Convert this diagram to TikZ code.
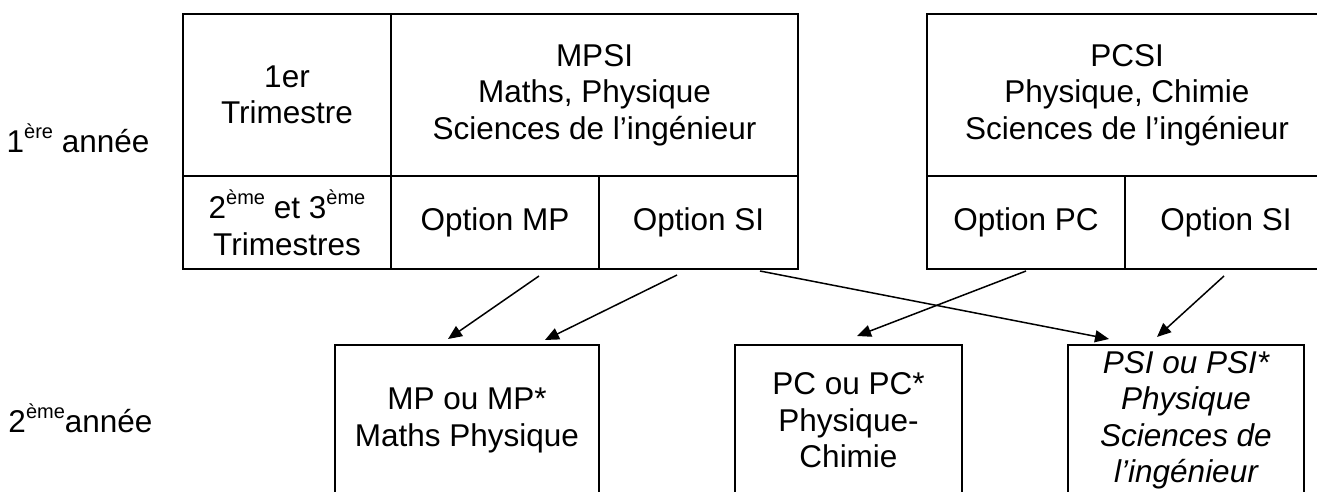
\documentclass[tikz,border=0pt]{standalone}
\usepackage{fontspec}
\setmainfont{Liberation Sans}
\usetikzlibrary{arrows.meta,calc}
\newcommand{\expo}[1]{\raisebox{14.5pt}{\fontsize{20}{20}\selectfont #1}}
\begin{document}
\begin{tikzpicture}[x=1pt,y=-1pt,
  cell/.style={draw,line width=2pt,inner sep=0pt,align=center,
    font=\fontsize{31.5}{36.5}\selectfont},
  lab/.style={inner sep=0pt,font=\fontsize{31.5}{36.5}\selectfont,anchor=base west},
  arr/.style={line width=1.5pt,-{Triangle[length=14pt,width=12pt]}}]
\useasboundingbox (0,0) rectangle (1317,492);
% year labels
\node[lab] (y1) at (6.5,153) {1\expo{ère} année};
\node[lab] (y2) at (8.3,432.7) {2\expo{ème}année};
% MPSI table
\node[cell,minimum width=208pt,minimum height=162pt] (t1) at (287,95) {1er\\Trimestre};
\node[cell,minimum width=407pt,minimum height=162pt] (mpsi) at (594.5,95) {MPSI\\Maths, Physique\\Sciences de l’ingénieur};
\node[cell,minimum width=208pt,minimum height=93pt] (t23) at (287,222.5) {2\expo{ème} et 3\expo{ème}\\Trimestres};
\node[cell,minimum width=208pt,minimum height=93pt] (optMP) at (495,222.5) {Option MP};
\node[cell,minimum width=199pt,minimum height=93pt] (optSIa) at (698.5,222.5) {Option SI};
% PCSI table
\node[cell,minimum width=400pt,minimum height=162pt] (pcsi) at (1127,95) {PCSI\\Physique, Chimie\\Sciences de l’ingénieur};
\node[cell,minimum width=198pt,minimum height=93pt] (optPC) at (1026,222.5) {Option PC};
\node[cell,minimum width=202pt,minimum height=93pt] (optSIb) at (1226,222.5) {Option SI};
% second year boxes
\node[cell,minimum width=264pt,minimum height=151pt] (mp) at (467,420.5) {MP ou MP*\\Maths Physique};
\node[cell,minimum width=227pt,minimum height=151pt] (pc) at (848.5,420.5) {PC ou PC*\\Physique-\\Chimie};
\node[cell,minimum width=236pt,minimum height=151pt,font=\fontsize{31.5}{36.5}\selectfont\itshape] (psi) at (1186,420.5) {PSI ou PSI*\\Physique\\Sciences de\\l’ingénieur};
% arrows
\draw[arr] ($(optMP.south)+(44,6)$) -- ($(mp.north)+(-19,-5)$);
\draw[arr] ($(optSIa.south)+(-21.5,5)$) -- ($(mp.north)+(78,-4)$);
\draw[arr] ($(optSIa.south)+(61.5,1)$) -- ($(psi.north)+(-77,-5)$);
\draw[arr] ($(optPC.south)+(0,1)$) -- ($(pc.north)+(8.5,-8)$);
\draw[arr] ($(optSIb.south)+(-2,6)$) -- ($(psi.north)+(-29,-7)$);
\end{tikzpicture}
\end{document}
